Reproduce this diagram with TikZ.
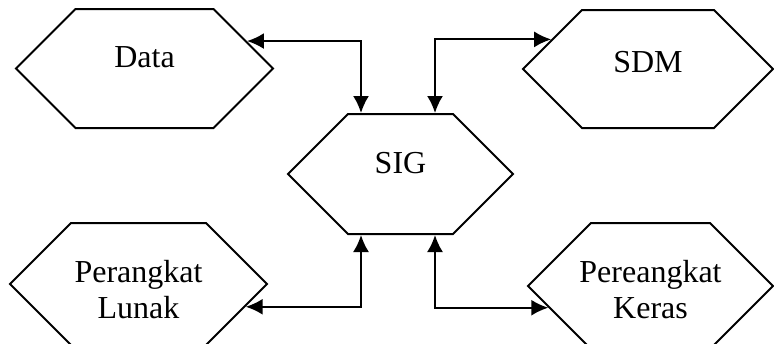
\documentclass[tikz,border=0pt]{standalone}
\usepackage{fontspec}
\setmainfont{Liberation Serif}
\usetikzlibrary{calc,positioning,arrows.meta,shapes.symbols}

\begin{document}
\begin{tikzpicture}[
    x=0.5pt, y=-0.5pt, font=\fontsize{16}{18}\selectfont,
    hexa/.style={draw, line width=1pt, shape=signal,
      signal to=west and east, signal pointer angle=90,
      align=center, inner sep=0pt},
    link/.style={line width=1pt,
      {Latex[length=8.5pt,width=8pt]}-{Latex[length=8.5pt,width=8pt]}}]

    \useasboundingbox (0,0) rectangle (774,343);

    % vertices

    \node[hexa, minimum width=128.5pt, minimum height=59.5pt, text depth=11pt]
      (data) at (144.5,68.5) {Data};
    \node[hexa, minimum width=125pt, minimum height=59pt, text depth=7pt]
      (sdm) at (648,69) {SDM};
    \node[hexa, minimum width=112.5pt, minimum height=60pt, text depth=11pt]
      (sig) at (400.5,174) {SIG};
    \node[hexa, minimum width=128.5pt, minimum height=61pt] (lunak) at (138.5,284)
      {\makebox[50pt]{\rule{0pt}{17pt}Perangkat}\\Lunak};
    \node[hexa, minimum width=122.5pt, minimum height=63pt] (keras) at (650.5,286)
      {\makebox[50pt]{\rule{0pt}{15pt}Pereangkat}\\Keras};

    % edges

    \draw[link] (data.15) -| ([xshift=-19.75pt]sig.north);
    \draw[link] ([xshift=17.25pt]sig.north) |- (sdm.163);
    \draw[link] (lunak.-12) -| ([xshift=-19.75pt]sig.south);
    \draw[link] ([xshift=17.25pt]sig.south) |- (keras.192);
  \end{tikzpicture}
\end{document}
